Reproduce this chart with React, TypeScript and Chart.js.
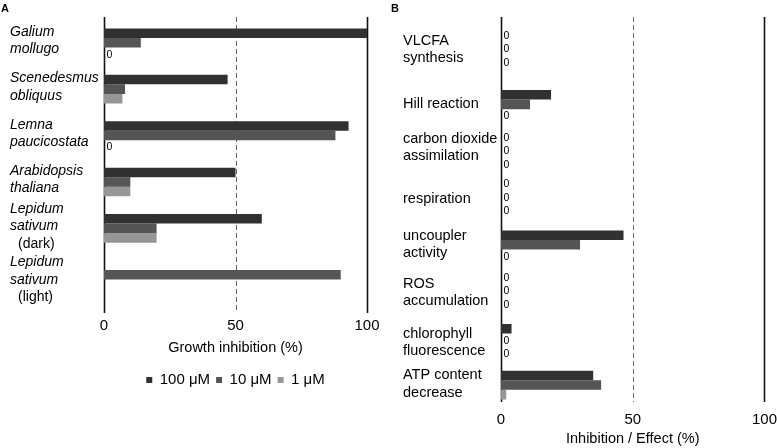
import React, { useEffect, useRef } from "react";
import { Chart, registerables } from "chart.js";

Chart.register(...registerables);

const FONT = "'Liberation Sans', Arial, sans-serif";

const seriesNames = ["100 μM", "10 μM", "1 μM"];
const seriesColors = ["#313131", "#555555", "#969696"];

// Panel A
const speciesLabels = [
  ["Galium", "mollugo"],
  ["Scenedesmus", "obliquus"],
  ["Lemna", "paucicostata"],
  ["Arabidopsis", "thaliana"],
  ["Lepidum", "sativum", "(dark)"],
  ["Lepidum", "sativum", "(light)"],
];
const growth100 = [100, 47, 93, 50, 60, null];
const growth10 = [14, 8, 88, 10, 20, 90];
const growth1 = [0, 7, 0, 10, 20, null];

// Panel B
const effectLabels = [
  ["VLCFA", "synthesis"],
  ["Hill reaction"],
  ["carbon dioxide", "assimilation"],
  ["respiration"],
  ["uncoupler", "activity"],
  ["ROS", "accumulation"],
  ["chlorophyll", "fluorescence"],
  ["ATP content", "decrease"],
];
const effect100 = [0, 19, 0, 0, 46.5, 0, 4, 35];
const effect10 = [0, 11, 0, 0, 30, 0, 0, 38];
const effect1 = [0, 0, 0, 0, 0, 0, 0, 2];

const refLines = [0, 50, 100];

const decor = {
  id: "decor",
  beforeDatasetsDraw(chart: any, _a: any, o: any) {
    const { ctx } = chart;
    const xs = chart.scales.x;
    ctx.save();
    refLines.forEach((v) => {
      const x = Math.round(xs.getPixelForValue(v)) + 0.5;
      ctx.beginPath();
      const dashed = v === 50;
      ctx.lineWidth = dashed ? 1 : 1.6;
      ctx.strokeStyle = dashed ? "#666666" : "#111111";
      ctx.setLineDash(dashed ? [5, 3] : []);
      ctx.moveTo(x, o.lineTop);
      ctx.lineTo(x, o.lineBottom);
      ctx.stroke();
    });
    ctx.restore();
  },
  afterDatasetsDraw(chart: any, _a: any, o: any) {
    const { ctx } = chart;
    const xs = chart.scales.x;
    const ys = chart.scales.y;
    const x0 = xs.getPixelForValue(0);
    const labels: string[][] = o.labels;
    const nSets = chart.data.datasets.length;
    const labelNudge: number[] = o.labelNudge || [];
    const zeroNudge: number[] = o.zeroNudge || [];
    ctx.save();
    // zero value labels
    ctx.font = `10.5px ${FONT}`;
    ctx.fillStyle = "#000";
    ctx.textAlign = "left";
    ctx.textBaseline = "middle";
    labels.forEach((_l, i) => {
      const zeros: number[] = [];
      for (let d = 0; d < nSets; d++) {
        if (chart.data.datasets[d].data[i] === 0) zeros.push(d);
      }
      if (!zeros.length) return;
      const center = ys.getPixelForValue(i) + (zeroNudge[i] || 0);
      if (zeros.length === nSets) {
        zeros.forEach((_d, k) => {
          ctx.fillText("0", x0 + 2.5, center + (k - 1) * 13.5);
        });
      } else {
        const first = chart.getDatasetMeta(zeros[0]).data[i].y;
        zeros.forEach((_d, k) => {
          ctx.fillText("0", x0 + 2.5, first + 2.5 + k * 13);
        });
      }
    });
    // category labels
    labels.forEach((lines, i) => {
      const center = ys.getPixelForValue(i) + o.labelShift + (labelNudge[i] || 0);
      const lh = 17.3;
      lines.forEach((line, k) => {
        const paren = line.startsWith("(");
        const italic = o.italic && !paren;
        ctx.font = `${italic ? "italic " : ""}${o.labelSize}px ${FONT}`;
        const y = center + (k - (lines.length - 1) / 2) * lh;
        ctx.fillText(line, o.labelX + (paren ? 8 : 0), y);
      });
    });
    // panel letter
    ctx.font = `bold 11px ${FONT}`;
    ctx.textBaseline = "top";
    ctx.fillText(o.letter, o.letterX, 3);
    ctx.restore();
  },
};

function makeDatasets(a: any[], b: any[], c: any[], catPct: number) {
  return [a, b, c].map((data, i) => ({
    label: seriesNames[i],
    data,
    backgroundColor: seriesColors[i],
    borderWidth: 0,
    categoryPercentage: catPct,
    barPercentage: 1,
  }));
}

function xScale(title: string, tickLen: number, titlePad: any) {
  return {
    type: "linear",
    min: 0,
    max: 100,
    ticks: { stepSize: 50, padding: 0, color: "#000", font: { size: 15, family: FONT } },
    grid: { display: false, drawTicks: true, tickLength: tickLen },
    border: { display: false },
    title: { display: true, text: title, color: "#000", font: { size: 14.5, family: FONT }, padding: titlePad },
  };
}

export default function App() {
  const refA = useRef<HTMLCanvasElement>(null);
  const refB = useRef<HTMLCanvasElement>(null);

  useEffect(() => {
    const chartA = new Chart(refA.current as HTMLCanvasElement, {
      type: "bar",
      data: {
        labels: speciesLabels.map((l) => l.join(" ")),
        datasets: makeDatasets(growth100, growth10, growth1, 0.616) as any,
      },
      options: {
        indexAxis: "y",
        responsive: false,
        animation: false,
        layout: { padding: { left: 104, right: 23, top: 19.5, bottom: 50.5 } },
        scales: {
          x: xScale("Growth inhibition (%)", 19, { top: 4.3, bottom: 9.8 }) as any,
          y: { display: false },
        },
        plugins: {
          legend: {
            position: "bottom",
            fullSize: false,
            labels: { boxWidth: 6, boxHeight: 6, padding: 6, color: "#000", font: { size: 15, family: FONT } },
          },
          tooltip: { enabled: false },
          decor: {
            lineTop: 17,
            lineBottom: 313,
            labels: speciesLabels,
            italic: true,
            labelSize: 14,
            labelX: 10,
            labelShift: -2,
            labelNudge: [0, 0, 0, 0, 0, 7],
            letter: "A",
            letterX: 1,
          },
        } as any,
      },
      plugins: [decor],
    });

    const chartB = new Chart(refB.current as HTMLCanvasElement, {
      type: "bar",
      data: {
        labels: effectLabels.map((l) => l.join(" ")),
        datasets: makeDatasets(effect100, effect10, effect1, 0.61) as any,
      },
      options: {
        indexAxis: "y",
        responsive: false,
        animation: false,
        layout: { padding: { left: 111, right: 12.5, top: 34.2, bottom: 0 } },
        scales: {
          x: xScale("Inhibition / Effect (%)", 2.5, { top: 1.3, bottom: 0.3 }) as any,
          y: { display: false },
        },
        plugins: {
          legend: { display: false },
          tooltip: { enabled: false },
          decor: {
            lineTop: 17,
            lineBottom: 402,
            labels: effectLabels,
            italic: false,
            labelSize: 14.5,
            labelX: 13,
            labelShift: 0,
            labelNudge: [-8, 0, -4, 1, 0, 1, 4, -1],
            zeroNudge: [-8, 0, 0, 0, 0, 0, 0, 0],
            letter: "B",
            letterX: 1,
          },
        } as any,
      },
      plugins: [decor],
    });

    return () => {
      chartA.destroy();
      chartB.destroy();
    };
  }, []);

  return (
    <div style={{ position: "fixed", left: 0, top: 0, width: 777, height: 448, background: "#fff", overflow: "hidden" }}>
      <canvas ref={refA} width={390} height={448} style={{ position: "absolute", left: 0, top: 0 }} />
      <canvas ref={refB} width={387} height={448} style={{ position: "absolute", left: 390, top: 0 }} />
    </div>
  );
}
